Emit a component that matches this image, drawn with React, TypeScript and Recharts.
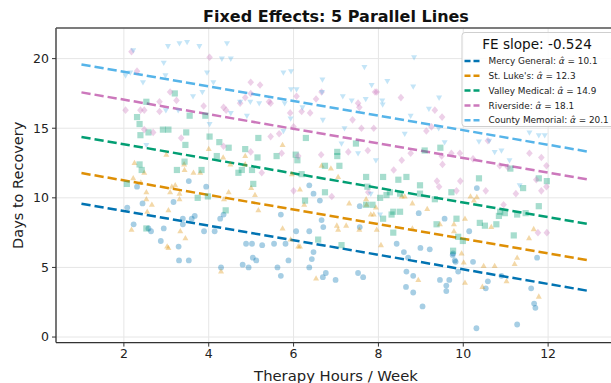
import React from 'react';
import { ScatterChart, Scatter, XAxis, YAxis, CartesianGrid, ReferenceLine } from 'recharts';

const hospitals = ['Mercy General', "St. Luke's", 'Valley Medical', 'Riverside', 'County Memorial'];
const colors = ['#0173b2', '#de8f05', '#029e73', '#cc78bc', '#56b4e9'];
const intercepts = [10.1, 12.3, 14.9, 18.1, 20.1];
const feSlope = -0.524;
const lineStartX = 1;
const lineEndX = 13;
const xTicks = [2, 4, 6, 8, 10, 12];
const yTicks = [0, 5, 10, 15, 20];

// [hours, days] per hospital
const mercy = [
  [2.31, 10.8], [2.08, 9.3], [2.44, 9.6], [2.23, 8.1], [2.58, 7.8], [2.64, 7.6], [2.94, 7.8], [2.87, 6.9],
  [3.29, 6.5], [3.3, 5.5], [3.53, 5.5], [3.53, 11.2], [3.17, 9.7], [3.39, 8.1], [3.39, 8.5], [3.6, 8.5],
  [3.67, 8.7], [3.89, 7.6], [4.14, 7.6], [3.94, 10.8], [4.29, 5.0], [4.27, 8.5], [4.35, 8.8], [4.88, 6.7],
  [5.02, 6.7], [5.04, 5.7], [4.8, 5.2], [4.94, 5.0], [5.7, 8.8], [6.37, 10.9], [6.47, 10.3], [6.62, 9.8],
  [6.66, 8.4], [6.7, 7.9], [6.37, 7.6], [6.06, 7.6], [5.81, 6.7], [5.54, 6.7], [5.26, 6.6], [5.12, 5.5],
  [5.88, 5.5], [6.43, 5.6], [6.47, 6.1], [6.37, 5.0], [5.62, 5.0], [5.7, 4.4], [6.69, 4.3], [6.76, 4.6],
  [6.99, 4.1], [7.52, 4.6], [7.64, 4.3], [7.56, 7.9], [7.56, 9.4], [8.43, 6.7], [8.6, 6.1], [8.7, 5.7],
  [8.99, 6.4], [9.21, 6.3], [8.66, 4.7], [8.82, 4.4], [8.65, 3.6], [8.95, 8.9], [9.45, 4.1], [9.67, 4.1],
  [9.76, 6.0], [9.8, 5.5], [9.88, 4.7], [9.6, 3.7], [8.82, 3.2], [9.04, 2.2], [9.6, 3.3], [9.56, 8.5],
  [9.75, 5.9], [9.82, 5.4], [10.14, 7.6], [10.23, 5.4], [10.32, 10.7], [10.31, 0.63], [10.58, 4.0],
  [10.53, 3.5], [10.9, 4.4], [11.6, 3.5], [11.67, 2.4], [11.7, 2.1], [11.74, 5.7], [11.27, 0.9],
];

const stLukes = [
  [4.0, 13.5], [4.34, 12.9], [3.0, 13.1], [5.74, 13.8], [2.25, 12.5], [2.48, 11.8], [2.22, 11.4], [2.4, 11.1],
  [2.53, 10.4], [2.53, 9.9], [2.66, 9.5], [2.55, 9.0], [3.05, 9.1], [2.18, 7.7], [3.21, 10.9], [3.13, 10.8],
  [3.09, 10.4], [3.31, 10.3], [3.31, 9.9], [3.42, 12.4], [3.43, 12.0], [3.64, 11.8], [3.8, 11.8], [4.36, 9.9],
  [4.47, 10.4], [5.0, 10.7], [5.09, 10.2], [3.33, 7.6], [3.45, 7.1], [3.02, 6.5], [3.05, 6.4], [4.29, 4.7],
  [4.86, 13.0], [4.51, 12.4], [4.86, 12.4], [5.17, 9.1], [6.15, 10.6], [5.96, 11.7], [6.66, 12.3],
  [6.88, 12.1], [7.05, 11.5], [7.31, 9.6], [7.71, 9.9], [7.72, 9.5], [7.94, 9.3], [7.82, 8.8], [7.89, 8.8],
  [7.96, 7.7], [7.55, 7.7], [7.02, 8.0], [7.05, 7.7], [7.24, 8.0], [6.25, 9.5], [5.74, 7.8], [6.15, 6.5],
  [6.11, 6.5], [5.93, 7.0], [6.53, 4.2], [8.06, 6.6], [8.62, 10.1], [8.8, 9.6], [9.15, 9.2], [9.45, 8.1],
  [9.78, 8.1], [9.78, 7.6], [8.8, 7.8], [8.94, 4.1], [8.55, 10.1], [10.17, 10.1], [10.32, 10.05],
  [10.25, 9.8], [10.04, 8.5], [9.96, 6.0], [10.01, 5.35], [10.48, 5.1], [10.74, 5.1], [10.66, 7.9],
  [11.27, 5.7], [11.21, 5.25], [11.55, 7.1], [11.66, 7.75], [10.45, 3.6], [11.02, 4.0], [10.04, 3.9],
  [11.78, 2.9],
];

const valley = [
  [3.2, 17.5], [2.53, 16.9], [3.55, 15.9], [3.92, 15.9], [2.31, 15.8], [2.37, 15.3], [2.92, 14.9], [3.05, 14.9],
  [2.58, 14.7], [2.39, 14.5], [3.47, 14.7], [3.45, 13.8], [4.02, 14.4], [4.25, 14.0], [4.47, 13.6], [4.86, 13.5],
  [5.17, 14.3], [4.19, 13.0], [6.29, 14.3], [5.6, 13.0], [6.05, 13.1], [7.03, 13.3], [7.03, 13.0], [7.47, 13.9],
  [9.09, 13.4], [9.46, 13.6], [2.37, 12.4], [2.42, 12.0], [2.07, 11.0], [3.43, 12.6], [3.25, 12.0], [3.83, 12.0],
  [3.74, 10.0], [3.98, 10.1], [4.4, 9.1], [2.53, 7.8], [4.7, 11.8], [4.78, 12.0], [5.02, 12.0], [5.05, 11.0],
  [5.15, 12.9], [6.09, 12.7], [7.08, 12.3], [6.74, 12.3], [6.19, 11.7], [7.71, 11.5], [8.11, 11.5], [8.47, 11.3],
  [8.66, 11.5], [8.98, 10.9], [8.98, 10.3], [8.27, 10.4], [8.19, 10.2], [8.51, 10.3], [8.04, 10.0], [7.86, 9.5],
  [7.71, 9.5], [7.74, 10.8], [6.74, 10.4], [6.27, 9.8], [8.35, 9.0], [8.51, 9.0], [8.31, 8.8], [8.11, 8.5],
  [8.35, 7.5], [9.37, 8.1], [9.72, 10.4], [9.84, 8.5], [9.76, 6.2], [6.58, 7.0], [7.13, 6.6], [9.33, 9.9],
  [10.37, 11.4], [11.11, 12.1], [11.41, 10.7], [11.78, 11.4], [11.97, 11.2], [10.39, 8.2], [10.51, 8.0],
  [10.78, 8.1], [10.84, 8.7], [10.87, 9.0], [10.98, 8.9], [11.27, 8.8], [11.47, 8.9], [11.78, 9.4],
  [11.19, 7.3], [9.88, 7.2], [9.99, 6.9],
];

const riverside = [
  [2.18, 20.5], [2.31, 19.1], [4.02, 20.1], [4.99, 18.3], [3.09, 17.6], [3.24, 17.0], [2.84, 16.9], [2.04, 16.3],
  [2.39, 16.3], [2.48, 16.3], [2.84, 16.2], [4.35, 16.5], [4.41, 16.3], [4.74, 16.8], [4.86, 17.2], [3.88, 16.6],
  [3.35, 14.3], [2.48, 14.9], [2.69, 14.7], [4.35, 13.7], [4.99, 13.3], [5.21, 18.1], [6.07, 17.3], [5.42, 16.9],
  [5.46, 16.8], [6.53, 17.1], [6.66, 17.6], [7.52, 16.8], [7.55, 16.5], [7.92, 17.6], [7.96, 17.6], [8.53, 17.2],
  [9.33, 16.3], [9.5, 15.8], [9.13, 14.8], [9.25, 15.1], [5.92, 16.1], [6.19, 16.2], [6.39, 16.1], [7.39, 15.6],
  [7.6, 15.0], [7.89, 15.0], [6.0, 15.1], [5.46, 14.4], [5.66, 14.6], [5.72, 13.2], [6.65, 13.1], [7.29, 13.3],
  [7.75, 13.4], [8.76, 13.2], [9.49, 13.0], [4.99, 17.5], [6.11, 13.0], [5.25, 11.8], [6.0, 10.5], [6.9, 10.1],
  [8.36, 12.0], [8.55, 12.7], [9.38, 11.2], [9.43, 10.8], [9.51, 12.4], [7.76, 10.4], [9.72, 13.2], [9.92, 13.2],
  [10.23, 12.8], [10.58, 14.1], [10.86, 12.3], [11.05, 12.2], [11.56, 13.2], [11.84, 12.9], [11.96, 12.3],
  [11.96, 10.8], [11.84, 10.5], [11.72, 11.3], [11.24, 10.3], [10.53, 10.5], [9.93, 11.2], [9.84, 10.5],
  [11.76, 7.5], [11.97, 7.5], [10.95, 9.5],
];

const county = [
  [2.22, 20.6], [3.04, 20.9], [3.31, 21.1], [3.49, 21.2], [3.78, 20.9], [4.43, 21.1], [2.94, 19.7], [4.31, 20.0],
  [4.52, 20.0], [2.98, 18.8], [2.45, 18.3], [2.04, 18.8], [2.15, 19.0], [3.96, 19.0], [4.11, 18.3], [3.63, 17.3],
  [3.85, 17.6], [4.74, 16.9], [4.98, 16.9], [4.52, 16.1], [4.02, 15.3], [2.99, 16.3], [3.28, 16.3], [2.53, 13.8],
  [4.9, 15.9], [5.76, 19.0], [5.94, 19.1], [5.94, 17.8], [6.07, 17.8], [6.68, 18.5], [6.67, 17.6], [7.67, 19.4],
  [7.84, 18.1], [8.21, 18.4], [8.84, 20.1], [8.82, 18.0], [7.16, 17.3], [7.37, 17.0], [7.7, 17.1], [8.09, 17.0],
  [8.1, 16.7], [9.43, 17.2], [9.19, 16.4], [8.76, 15.9], [5.19, 16.8], [5.79, 16.8], [5.93, 15.7], [6.69, 15.6],
  [7.2, 15.0], [8.62, 14.6], [9.56, 14.0], [5.76, 14.8], [6.21, 16.5], [7.13, 13.9], [7.52, 13.2], [9.42, 15.0],
  [7.94, 12.7], [7.82, 10.3], [8.04, 8.8], [10.37, 14.05], [10.61, 14.1], [10.74, 13.3], [10.9, 13.4],
  [11.09, 12.7], [11.56, 14.7], [11.78, 14.5], [11.92, 14.5], [11.33, 10.9],
];

const groups = [mercy, stLukes, valley, riverside, county];
const markers = ['circle', 'triangle', 'square', 'diamond', 'triangleDown'];

const FONT = '"DejaVu Sans", sans-serif';

function makeShape(kind: string, color: string) {
  return (props: any) => {
    const { cx, cy } = props;
    if (cx == null || cy == null) return <g />;
    const common = { fill: color, fillOpacity: 0.35 };
    if (kind === 'circle') return <circle cx={cx} cy={cy} r={2.9} {...common} />;
    if (kind === 'square') return <rect x={cx - 3.1} y={cy - 3.1} width={6.2} height={6.2} {...common} />;
    if (kind === 'diamond')
      return <polygon points={`${cx},${cy - 3.8} ${cx + 3.3},${cy} ${cx},${cy + 3.8} ${cx - 3.3},${cy}`} {...common} />;
    if (kind === 'triangle')
      return <polygon points={`${cx},${cy - 3.3} ${cx + 3},${cy + 2} ${cx - 3},${cy + 2}`} {...common} />;
    return <polygon points={`${cx},${cy + 3.3} ${cx + 3},${cy - 2} ${cx - 3},${cy - 2}`} {...common} />;
  };
}

export default function App() {
  const plotLeft = 56;
  const plotTop = 28;
  const plotBottom = 342.6;
  return (
    <div style={{ position: 'relative', width: 611, height: 383, overflow: 'hidden', background: '#fff' }}>
      <style>{'body{margin:0}'}</style>
      <ScatterChart width={616} height={383} margin={{ top: plotTop, right: 0, bottom: 10.4, left: 16 }}>
        <CartesianGrid stroke="#e6e6e6" strokeWidth={1} />
        <XAxis
          type="number"
          dataKey="x"
          domain={[0.4, 13.6]}
          ticks={xTicks}
          height={30}
          tickSize={4}
          tickMargin={3}
          axisLine={{ stroke: '#333', strokeWidth: 1.3 }}
          tickLine={{ stroke: '#333' }}
          tick={{ fontSize: 12.5, fill: '#222', fontFamily: FONT }}
          allowDataOverflow
        />
        <YAxis
          type="number"
          dataKey="y"
          domain={[-0.4, 22.2]}
          ticks={yTicks}
          width={40}
          tickSize={4}
          tickMargin={3}
          axisLine={{ stroke: '#333', strokeWidth: 1.3 }}
          tickLine={{ stroke: '#333' }}
          tick={{ fontSize: 12.5, fill: '#222', fontFamily: FONT }}
          allowDataOverflow
        />
        {groups.map((g, i) => (
          <Scatter
            key={hospitals[i]}
            name={hospitals[i]}
            data={g.map(([x, y]) => ({ x, y }))}
            shape={makeShape(markers[i], colors[i])}
            isAnimationActive={false}
          />
        ))}
        {intercepts.map((b, i) => (
          <ReferenceLine
            key={'fe' + i}
            segment={[
              { x: lineStartX, y: b + feSlope * lineStartX },
              { x: lineEndX, y: b + feSlope * lineEndX },
            ]}
            stroke={colors[i]}
            strokeWidth={2.5}
            strokeDasharray="9.25 4"
          />
        ))}
      </ScatterChart>
      <svg
        width={611}
        height={383}
        style={{ position: 'absolute', left: 0, top: 0, pointerEvents: 'none', fontFamily: FONT }}
      >
        <line x1={plotLeft} y1={plotTop} x2={611} y2={plotTop} stroke="#555" strokeWidth={1.3} />
        <text x={336} y={21.5} textAnchor="middle" fontSize={16} fontWeight="bold" fill="#111">
          Fixed Effects: 5 Parallel Lines
        </text>
        <text x={336} y={380.5} textAnchor="middle" fontSize={14.8} fill="#222">
          Therapy Hours / Week
        </text>
        <text
          x={0}
          y={0}
          transform={`translate(23, ${(plotTop + plotBottom) / 2}) rotate(-90)`}
          textAnchor="middle"
          fontSize={14.5}
          fill="#222"
        >
          Days to Recovery
        </text>
        <rect x={462} y={32.5} width={152} height={94} rx={3} fill="#fff" fillOpacity={0.85} stroke="#cfcfcf" />
        <text x={537} y={49} textAnchor="middle" fontSize={13.6} fill="#111">
          FE slope: {feSlope.toFixed(3)}
        </text>
        {hospitals.map((h, i) => {
          const y = 61 + i * 14.8;
          return (
            <g key={h}>
              <line x1={464.5} y1={y} x2={481.5} y2={y} stroke={colors[i]} strokeWidth={2.5} strokeDasharray="6 3" />
              <text x={488.5} y={y + 3.2} fontSize={8.9} fill="#222">
                {h}: <tspan fontStyle="italic">α̂</tspan> = {intercepts[i].toFixed(1)}
              </text>
            </g>
          );
        })}
      </svg>
    </div>
  );
}
